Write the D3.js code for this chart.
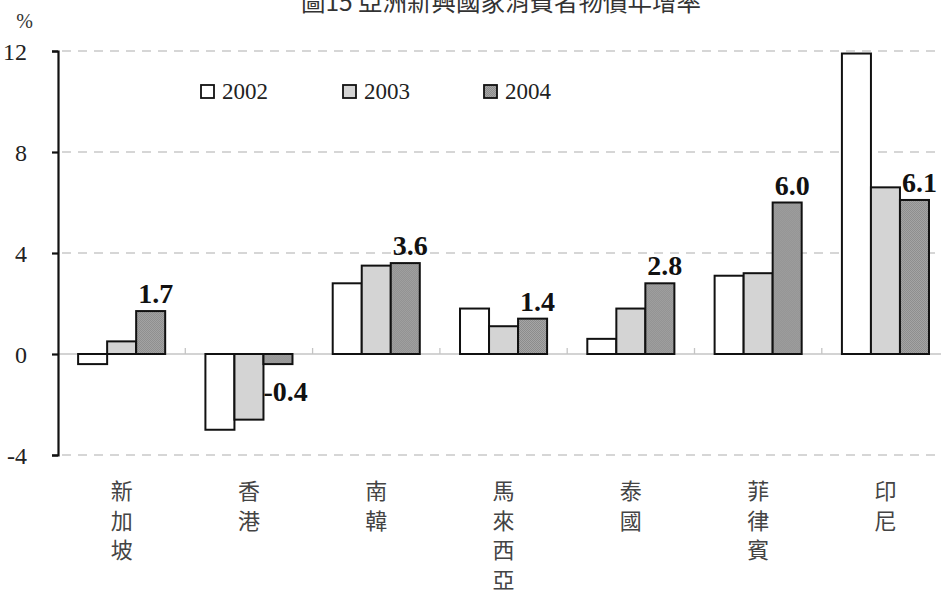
<!DOCTYPE html>
<html>
<head>
<meta charset="utf-8">
<script src="https://cdn.jsdelivr.net/npm/d3@7"></script>
<style>
  html, body { margin: 0; padding: 0; background: #fff; }
  svg { display: block; }
</style>
</head>
<body>
<svg id="chart" width="941" height="592"></svg>
<script>
// Consumer price growth, emerging Asian economies (%)
const title = "圖15 亞洲新興國家消費者物價年增率";
const unitLabel = "%";
const categories = ["新加坡", "香港", "南韓", "馬來西亞", "泰國", "菲律賓", "印尼"];
const years = ["2002", "2003", "2004"];
const values2002 = [-0.4, -3.0, 2.8, 1.8, 0.6, 3.1, 11.9];
const values2003 = [0.5, -2.6, 3.5, 1.1, 1.8, 3.2, 6.6];
const values2004 = [1.7, -0.4, 3.6, 1.4, 2.8, 6.0, 6.1];
const yTicks = [-4, 0, 4, 8, 12];

const NUM_FONT = '"Liberation Serif", "Times New Roman", serif';
const CJK_FONT = '"Noto Sans CJK TC", "Noto Sans CJK SC", sans-serif';

const series = [values2002, values2003, values2004];
const svg = d3.select("#chart");

// fine stipple used for the 2004 bars
const defs = svg.append("defs");
const pat = defs.append("pattern")
  .attr("id", "stipple").attr("patternUnits", "userSpaceOnUse")
  .attr("width", 2).attr("height", 2);
pat.append("rect").attr("width", 2).attr("height", 2).attr("fill", "#a6a6a6");
pat.append("rect").attr("width", 1).attr("height", 1).attr("fill", "#8c8c8c");
pat.append("rect").attr("x", 1).attr("y", 1).attr("width", 1).attr("height", 1).attr("fill", "#8c8c8c");
const fills = ["#ffffff", "#d4d4d4", "url(#stipple)"];

const plotLeft = 58, plotTop = 51, plotBottom = 455;
const stepW = 127.3;
const x0 = d3.scaleBand()
  .domain(categories)
  .range([plotLeft, plotLeft + stepW * categories.length])
  .paddingInner(0.316)
  .paddingOuter(0.158);
const x1 = d3.scaleBand().domain(years).range([0, x0.bandwidth()]).padding(0);
const y = d3.scaleLinear().domain([-4, 12]).range([plotBottom, plotTop]);

// dashed gridlines
svg.append("g").selectAll("line")
  .data(yTicks.filter(t => t !== 0))
  .join("line")
  .attr("x1", plotLeft + 4).attr("x2", 941)
  .attr("y1", d => y(d)).attr("y2", d => y(d))
  .attr("stroke", "#c9c9c9").attr("stroke-width", 1.3)
  .attr("stroke-dasharray", "9,7");

// zero line with category separators
svg.append("line")
  .attr("x1", plotLeft).attr("x2", 941)
  .attr("y1", y(0)).attr("y2", y(0))
  .attr("stroke", "#c4c4c4").attr("stroke-width", 1.6);
svg.append("g").selectAll("line")
  .data(categories.slice(1))
  .join("line")
  .attr("x1", d => x0(d) - x0.step() * x0.paddingInner() / 2)
  .attr("x2", d => x0(d) - x0.step() * x0.paddingInner() / 2)
  .attr("y1", y(0)).attr("y2", y(0) - 6)
  .attr("stroke", "#c4c4c4").attr("stroke-width", 1.3);

// y axis (plain hyphen for negatives)
const yAxis = d3.axisLeft(y)
  .tickValues(yTicks)
  .tickFormat(d => String(d))
  .tickSize(6).tickSizeOuter(6).tickPadding(25);
const ga = svg.append("g").attr("transform", `translate(${plotLeft},0)`).call(yAxis);
ga.attr("font-family", NUM_FONT).attr("font-size", 24);
ga.select(".domain").attr("stroke", "#111").attr("stroke-width", 2.2);
ga.selectAll(".tick line").attr("stroke", "#111").attr("stroke-width", 2.2);
ga.selectAll(".tick text").attr("fill", "#222").attr("dy", "0.34em");

// unit
svg.append("text")
  .attr("font-family", NUM_FONT)
  .attr("x", 33).attr("y", 28)
  .attr("text-anchor", "end")
  .attr("font-size", 20).attr("fill", "#333")
  .text(unitLabel);

// title (top edge)
svg.append("text")
  .attr("font-family", CJK_FONT)
  .attr("x", 501).attr("y", 11)
  .attr("text-anchor", "middle")
  .attr("font-size", 24.5).attr("fill", "#333")
  .text(title);

// bars
const groups = svg.append("g").selectAll("g")
  .data(categories)
  .join("g")
  .attr("transform", d => `translate(${x0(d)},0)`);
groups.selectAll("rect")
  .data((d, i) => years.map((yr, k) => ({ yr, k, v: series[k][i] })))
  .join("rect")
  .attr("x", d => x1(d.yr))
  .attr("width", x1.bandwidth())
  .attr("y", d => y(Math.max(0, d.v)))
  .attr("height", d => Math.abs(y(d.v) - y(0)))
  .attr("fill", d => fills[d.k])
  .attr("stroke", "#111")
  .attr("stroke-width", 2);

// value labels for 2004
groups.append("text")
  .attr("font-family", NUM_FONT)
  .attr("font-size", 28)
  .attr("font-weight", "bold")
  .attr("fill", "#111")
  .each(function (d, i) {
    const v = values2004[i];
    const t = d3.select(this);
    if (v >= 0) {
      t.attr("x", x1("2004") + x1.bandwidth() / 2 + 5)
        .attr("y", y(v) - 8)
        .attr("text-anchor", "middle");
    } else {
      t.attr("x", x1("2004"))
        .attr("y", y(v) + 37)
        .attr("text-anchor", "start");
    }
    t.text(v.toFixed(1));
  });

// category labels, stacked vertically
svg.append("g").selectAll("text")
  .data(categories)
  .join("text")
  .attr("font-family", CJK_FONT)
  .attr("font-size", 22)
  .attr("fill", "#444")
  .attr("text-anchor", "middle")
  .each(function (d) {
    const cx = x0(d) + x0.bandwidth() / 2;
    d3.select(this).selectAll("tspan")
      .data(Array.from(d))
      .join("tspan")
      .attr("x", cx)
      .attr("y", (c, j) => 499 + j * 29.7)
      .text(c => c);
  });

// legend
const legendX = [201, 343, 484];
const lg = svg.append("g").selectAll("g")
  .data(years)
  .join("g")
  .attr("transform", (d, i) => `translate(${legendX[i]},85)`);
lg.append("rect")
  .attr("width", 13).attr("height", 13)
  .attr("fill", (d, i) => fills[i])
  .attr("stroke", "#111").attr("stroke-width", 1.8);
lg.append("text")
  .attr("font-family", NUM_FONT)
  .attr("x", 21).attr("y", 13.5)
  .attr("font-size", 23).attr("fill", "#222")
  .text(d => d);
</script>
</body>
</html>
